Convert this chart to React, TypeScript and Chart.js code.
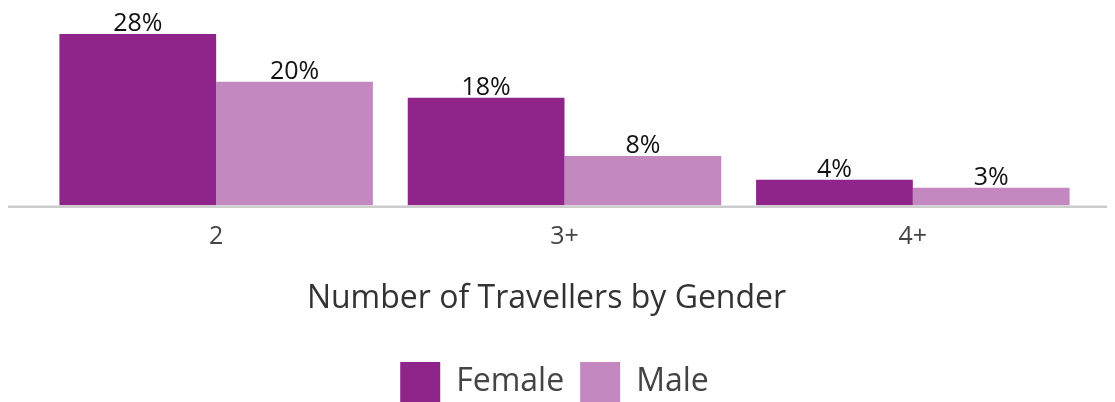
import React, { useEffect, useRef } from "react";
import { Chart, registerables } from "chart.js";

Chart.register(...registerables);

const categories = ["2", "3+", "4+"];
const femaleValues = [28, 17.6, 4.2];
const maleValues = [20.2, 8.1, 2.9];
const seriesNames = ["Female", "Male"];
const axisTitle = "Number of Travellers by Gender";

const FONT = "'Open Sans', sans-serif";
const TITLE_SIZE = 32;
const TITLE_PAD_BOTTOM = 28;

const valueLabels = {
  id: "valueLabels",
  afterDatasetsDraw(chart: any) {
    const ctx = chart.ctx;
    ctx.save();
    ctx.font = `25px ${FONT}`;
    ctx.fillStyle = "#111111";
    ctx.textAlign = "center";
    ctx.textBaseline = "alphabetic";
    chart.data.datasets.forEach((ds: any, i: number) => {
      const meta = chart.getDatasetMeta(i);
      meta.data.forEach((bar: any, j: number) => {
        const v = ds.data[j];
        ctx.fillText(Math.round(v) + "%", bar.x, bar.y - 3);
      });
    });
    ctx.restore();
  },
};

const baseLine = {
  id: "baseLine",
  afterDatasetsDraw(chart: any) {
    const ctx = chart.ctx;
    const y = chart.chartArea.bottom + 1.25;
    ctx.save();
    ctx.strokeStyle = "#cccccc";
    ctx.lineWidth = 2.5;
    ctx.beginPath();
    ctx.moveTo(0, y);
    ctx.lineTo(chart.width, y);
    ctx.stroke();
    ctx.restore();
  },
};

const axisTitleDraw = {
  id: "axisTitleDraw",
  afterDraw(chart: any) {
    const sx = chart.scales.x;
    const ctx = chart.ctx;
    const lineH = TITLE_SIZE * 1.2;
    const y = sx.bottom - TITLE_PAD_BOTTOM - lineH / 2;
    const x = (sx.left + sx.right) / 2 - 18;
    ctx.save();
    ctx.font = `${TITLE_SIZE}px ${FONT}`;
    ctx.fillStyle = "#333333";
    ctx.textAlign = "center";
    ctx.textBaseline = "middle";
    ctx.fillText(axisTitle, x, y);
    ctx.restore();
  },
};

const legendShift = {
  id: "legendShift",
  afterLayout(chart: any) {
    if (chart.legend) {
      chart.legend.left -= 10;
      chart.legend.right -= 10;
    }
  },
};

export default function App() {
  const ref = useRef<HTMLCanvasElement | null>(null);
  useEffect(() => {
    if (!ref.current) return;
    const chart = new Chart(ref.current, {
      type: "bar",
      data: {
        labels: categories,
        datasets: [
          {
            label: seriesNames[0],
            data: femaleValues,
            backgroundColor: "#8f258a",
            categoryPercentage: 0.9,
            barPercentage: 1,
          },
          {
            label: seriesNames[1],
            data: maleValues,
            backgroundColor: "#c388c0",
            categoryPercentage: 0.9,
            barPercentage: 1,
          },
        ],
      },
      options: {
        animation: false,
        responsive: true,
        maintainAspectRatio: false,
        layout: { padding: { left: 35, right: 28, top: 0, bottom: -10 } },
        scales: {
          y: { display: false, min: 0, max: 32.25 },
          x: {
            grid: { display: false, drawTicks: false },
            border: { display: false },
            ticks: {
              padding: 16,
              color: "#444444",
              font: { family: FONT, size: 25 },
            },
            title: {
              display: true,
              text: axisTitle,
              color: "rgba(0,0,0,0)",
              font: { family: FONT, size: TITLE_SIZE },
              padding: { top: 12, bottom: TITLE_PAD_BOTTOM },
            },
          },
        },
        plugins: {
          legend: {
            position: "bottom",
            labels: {
              boxWidth: 40,
              boxHeight: 40,
              padding: 16,
              color: "#444444",
              font: { family: FONT, size: 32 },
            },
          },
          tooltip: { enabled: false },
        },
      },
      plugins: [valueLabels, baseLine, axisTitleDraw, legendShift],
    });
    return () => chart.destroy();
  }, []);
  return (
    <div style={{ position: "relative", width: 1108, height: 394, marginLeft: -1 }}>
      <canvas ref={ref} />
    </div>
  );
}
